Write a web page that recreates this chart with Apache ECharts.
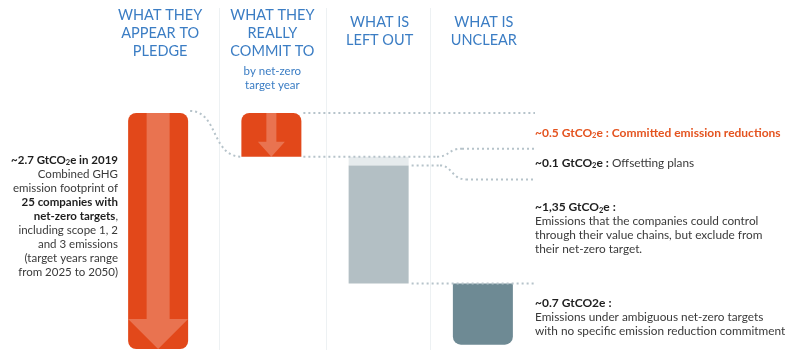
<!DOCTYPE html>
<html>
<head>
<meta charset="utf-8">
<script src="https://cdn.jsdelivr.net/npm/echarts@6/dist/echarts.min.js"></script>
<style>
  html, body { margin: 0; padding: 0; background: #fff; }
  #chart { width: 789px; height: 350px; }
</style>
</head>
<body>
<div id="chart"></div>
<script>
// Column headings and the emission figures (GtCO2e) behind each step of the waterfall
const columnTitles = ['WHAT THEY\nAPPEAR TO\nPLEDGE', 'WHAT THEY\nREALLY\nCOMMIT TO', 'WHAT IS\nLEFT OUT', 'WHAT IS\nUNCLEAR'];
const columnSubtitles = ['', 'by net-zero\ntarget year', '', ''];
const totalFootprint = 2.7;
const committedReductions = 0.5;
const offsettingPlans = 0.1;
const leftOut = 1.35;
const unclear = 0.7;

// Waterfall segments, stacked down from the total footprint
const segments = [];
let level = totalFootprint;
segments.push({ col: 0, lo: 0, hi: totalFootprint, kind: 'total' });
segments.push({ col: 1, lo: level - committedReductions, hi: level, kind: 'committed' });
level -= committedReductions;
segments.push({ col: 2, lo: level - offsettingPlans, hi: level, kind: 'offset' });
level -= offsettingPlans;
segments.push({ col: 2, lo: level - leftOut, hi: level, kind: 'leftout' });
level -= leftOut;
segments.push({ col: 3, lo: level - unclear, hi: level, kind: 'unclear' });

const ORANGE = '#e2481a';
const FONT = 'Lato, "Open Sans", sans-serif';
const BAR_W = 60;
const colNudge = [0, 5, 4, 0];
const kindStyle = {
  total:     { color: ORANGE,    r: [8, 8, 8, 8], arrow: { shaft: 23, head: 60, headH: 30 } },
  committed: { color: ORANGE,    r: [8, 8, 0, 0], arrow: { shaft: 10, head: 27, headH: 15 } },
  offset:    { color: '#e6ebed', r: 0 },
  leftout:   { color: '#b3bfc4', r: 0 },
  unclear:   { color: '#6e8a94', r: [0, 0, 8, 8] }
};

function renderBar(params, api) {
  const seg = segments[params.dataIndex];
  const top = api.coord([seg.col, seg.hi]);
  const bot = api.coord([seg.col, seg.lo]);
  const cx = top[0] + colNudge[seg.col];
  const st = kindStyle[seg.kind];
  const x = cx - BAR_W / 2, y = top[1], h = bot[1] - top[1];
  const children = [{ type: 'rect', shape: { x: x, y: y, width: BAR_W, height: h, r: st.r }, style: { fill: st.color } }];
  if (st.arrow) {
    const a = st.arrow;
    const sw = a.shaft / 2, hw = a.head / 2, hy = y + h - a.headH;
    children.push({
      type: 'polygon',
      shape: { points: [[cx - sw, y], [cx + sw, y], [cx + sw, hy], [cx + hw, hy], [cx, y + h], [cx - hw, hy], [cx - sw, hy]] },
      style: { fill: 'rgba(255,255,255,0.24)' }
    });
  }
  return { type: 'group', children: children };
}

const chart = echarts.init(document.getElementById('chart'), null, { renderer: 'canvas' });
chart.setOption({
  animation: false,
  backgroundColor: '#fff',
  grid: { left: 104, top: 113, bottom: 1, width: 433 },
  xAxis: { type: 'category', data: columnTitles, show: false },
  yAxis: { type: 'value', min: 0, max: totalFootprint, show: false },
  series: [{
    type: 'custom',
    renderItem: renderBar,
    encode: { x: 0, y: [1, 2] },
    data: segments.map(s => [s.col, s.lo, s.hi]),
    z: 2
  }]
});

// Pixel helpers
const px = (c, v) => chart.convertToPixel({ gridIndex: 0 }, [c, v]);
const colX = c => px(c, 0)[0] + colNudge[c];
const yAt = v => px(0, v)[1];

const lvTop = yAt(totalFootprint);
const lvCommit = yAt(totalFootprint - committedReductions);
const lvOffset = yAt(totalFootprint - committedReductions - offsettingPlans);
const lvLeft = yAt(totalFootprint - committedReductions - offsettingPlans - leftOut);
const textX = 535;
const half = BAR_W / 2;

const dot = { stroke: '#b6c3ca', lineWidth: 2, lineDash: [2, 3], lineCap: 'butt', fill: null };
const graphics = [];

// Column separators
const sepNudge = [4, 1, -1];
for (let i = 0; i < 3; i++) {
  const sx = Math.round((colX(i) + colX(i + 1)) / 2 + sepNudge[i]) + 0.5;
  graphics.push({ type: 'line', shape: { x1: sx, y1: 8, x2: sx, y2: 350 }, style: { stroke: '#edf1f3', lineWidth: 1 }, z: 0 });
}

// Headings
columnTitles.forEach((t, i) => {
  const lines = t.split('\n').length;
  graphics.push({
    type: 'text', x: colX(i) + (i === 0 ? 2 : 1), y: lines === 3 ? 6 : 13, z: 5,
    style: { text: t, font: '14.5px ' + FONT, fill: '#3b7dc4', align: 'center', verticalAlign: 'top', lineHeight: 18 }
  });
  if (columnSubtitles[i]) {
    graphics.push({
      type: 'text', x: colX(i) + 1, y: 64, z: 5,
      style: { text: columnSubtitles[i], font: '11.5px ' + FONT, fill: '#3b7dc4', align: 'center', verticalAlign: 'top', lineHeight: 14 }
    });
  }
});

// Dotted connectors between the steps and towards the notes
const c0r = colX(0) + half, c1l = colX(1) - half, c1r = colX(1) + half, c2r = colX(2) + half;
graphics.push({ type: 'bezierCurve', shape: { x1: c0r + 2, y1: lvTop - 2, cpx1: c0r + 30, cpy1: lvTop - 2, cpx2: c1l - 30, cpy2: lvCommit, x2: c1l, y2: lvCommit }, style: dot, z: 3 });
graphics.push({ type: 'line', shape: { x1: c1r + 2, y1: lvTop, x2: textX, y2: lvTop }, style: dot, z: 3 });
graphics.push({ type: 'line', shape: { x1: c1r + 2, y1: lvCommit, x2: 437, y2: lvCommit }, style: dot, z: 3 });
graphics.push({ type: 'bezierCurve', shape: { x1: 437, y1: lvCommit, cpx1: 450, cpy1: lvCommit, cpx2: 448, cpy2: lvCommit - 8, x2: 462, y2: lvCommit - 8 }, style: dot, z: 3 });
graphics.push({ type: 'line', shape: { x1: 462, y1: lvCommit - 8, x2: textX, y2: lvCommit - 8 }, style: dot, z: 3 });
graphics.push({ type: 'line', shape: { x1: c2r + 3, y1: lvOffset, x2: 440, y2: lvOffset }, style: dot, z: 3 });
graphics.push({ type: 'bezierCurve', shape: { x1: 440, y1: lvOffset, cpx1: 452, cpy1: lvOffset, cpx2: 452, cpy2: lvOffset + 14, x2: 466, y2: lvOffset + 14 }, style: dot, z: 3 });
graphics.push({ type: 'line', shape: { x1: 466, y1: lvOffset + 14, x2: textX, y2: lvOffset + 14 }, style: dot, z: 3 });
graphics.push({ type: 'line', shape: { x1: c2r + 3, y1: lvLeft, x2: textX, y2: lvLeft }, style: dot, z: 3 });

// Rich text styles (GtCO2e with subscript 2)
const rich = {
  b: { font: 'bold 11.5px ' + FONT, fill: '#1e1e1e' },
  bs: { font: 'bold 7.5px ' + FONT, fill: '#1e1e1e', padding: [6, 0, 0, 0] },
  o: { font: 'bold 12px ' + FONT, fill: '#e4531f' },
  os: { font: 'bold 7.5px ' + FONT, fill: '#e4531f', padding: [6, 0, 0, 0] },
  n: { font: '11.5px ' + FONT, fill: '#3a3a3a' },
  m: { font: '11.8px ' + FONT, fill: '#3a3a3a' },
  mb: { font: 'bold 12px ' + FONT, fill: '#1e1e1e' }
};
function note(text, x, y, align) {
  return {
    type: 'text', x: x, y: y, z: 5,
    style: { text: text, rich: rich, font: '11.5px ' + FONT, fill: '#3a3a3a', align: align || 'left', verticalAlign: 'top', lineHeight: 14 }
  };
}

graphics.push(note(
  '{b|~2.7 GtCO}{bs|2}{b|e in 2019}\n{n|Combined GHG}\n{n|emission footprint of}\n{b|25 companies with}\n{b|net-zero targets}{n|,}\n{n|including scope 1, 2}\n{n|and 3 emissions}\n{n|(target years range}\n{n|from 2025 to 2050)}',
  118, 153, 'right'));
graphics.push(note('{o|~0.5 GtCO}{os|2}{o|e : Committed emission reductions}', textX, lvTop + 13));
graphics.push(note('{mb|~0.1 GtCO}{bs|2}{mb|e :}{m| Offsetting plans}', textX, lvCommit - 1));
graphics.push(note('{mb|~1,35 GtCO}{bs|2}{mb|e :}\n{m|Emissions that the companies could control}\n{m|through their value chains, but exclude from}\n{m|their net-zero target.}', textX, lvOffset + 35));
graphics.push(note('{mb|~0.7 GtCO2e :}\n{m|Emissions under ambiguous net-zero targets}\n{m|with no specific emission reduction commitment}', textX, lvLeft + 13));

chart.setOption({ graphic: graphics });
</script>
</body>
</html>
